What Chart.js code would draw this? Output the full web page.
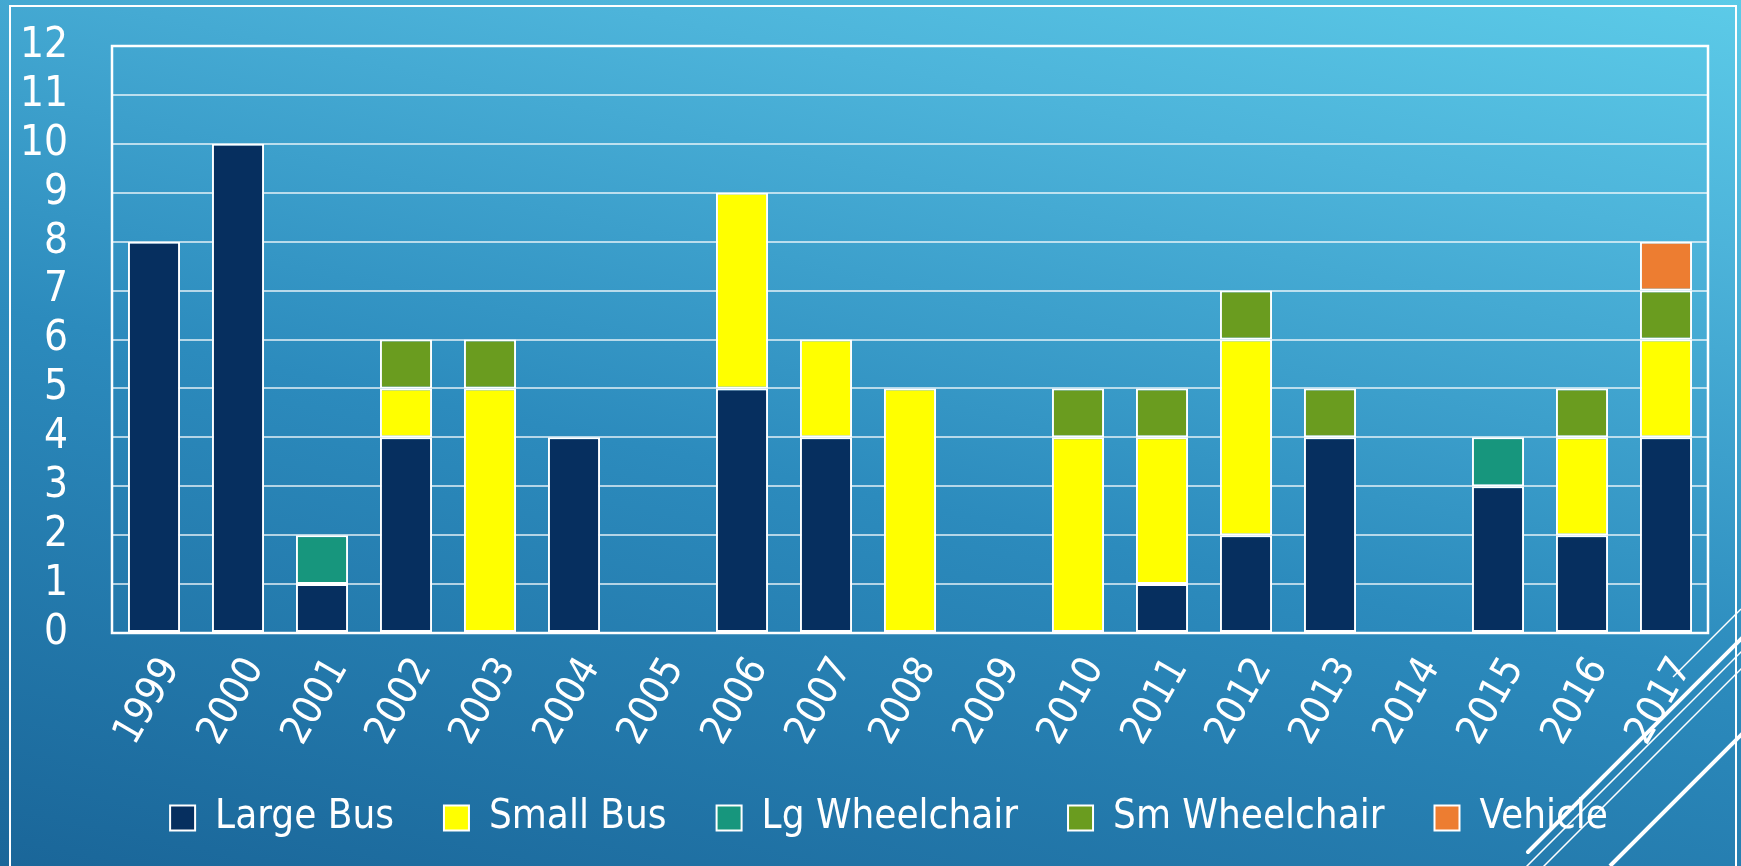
<!DOCTYPE html>
<html>
<head>
<meta charset="utf-8">
<script src="https://cdn.jsdelivr.net/npm/chart.js@4/dist/chart.umd.min.js"></script>
<style>
    html, body { margin: 0; padding: 0; }
    body {
        width: 1741px;
        height: 866px;
        overflow: hidden;
        position: relative;
        background: linear-gradient(12deg, #1a6699 0%, #2c8bbd 45%, #4db4da 80%, #5ccbe8 100%);
    }
    #frame {
        position: absolute;
        left: 9px;
        top: 5px;
        width: 1724px;
        height: 900px;
        border: 2px solid #ffffff;
    }
    #chart { position: absolute; left: 0; top: 0; }
    #deco { position: absolute; left: 0; top: 0; }
</style>
</head>
<body>
<div id="frame"></div>
<canvas id="chart" width="1741" height="866"></canvas>
<svg id="deco" width="1741" height="866">
    <g stroke="#ffffff" fill="none">
        <line x1="1673" y1="677" x2="1741" y2="609" stroke-width="1.5"/>
        <line x1="1528" y1="852" x2="1760" y2="620" stroke-width="4" stroke-linecap="round"/>
        <line x1="1523" y1="870" x2="1760" y2="633" stroke-width="1.5"/>
        <line x1="1540" y1="870" x2="1760" y2="650" stroke-width="1.5"/>
        <line x1="1610" y1="866" x2="1760" y2="716" stroke-width="4"/>
    </g>
</svg>
<script>
const years = ['1999', '2000', '2001', '2002', '2003', '2004', '2005', '2006', '2007', '2008',
    '2009', '2010', '2011', '2012', '2013', '2014', '2015', '2016', '2017'];

const largeBus     = [8, 10, 1, 4, 0, 4, 0, 5, 4, 0, 0, 0, 1, 2, 4, 0, 3, 2, 4];
const smallBus     = [0, 0, 0, 1, 5, 0, 0, 4, 2, 5, 0, 4, 3, 4, 0, 0, 0, 2, 2];
const lgWheelchair = [0, 0, 1, 0, 0, 0, 0, 0, 0, 0, 0, 0, 0, 0, 0, 0, 1, 0, 0];
const smWheelchair = [0, 0, 0, 1, 1, 0, 0, 0, 0, 0, 0, 1, 1, 1, 1, 0, 0, 1, 1];
const vehicle      = [0, 0, 0, 0, 0, 0, 0, 0, 0, 0, 0, 0, 0, 0, 0, 0, 0, 0, 1];

const fontFamily = '"Liberation Sans Narrow", "DejaVu Sans Condensed", sans-serif';

// white box around the plot area
const plotBorder = {
    id: 'plotBorder',
    afterDatasetsDraw(chart) {
        const a = chart.chartArea;
        const ctx = chart.ctx;
        ctx.save();
        ctx.strokeStyle = '#ffffff';
        ctx.lineWidth = 2.5;
        ctx.strokeRect(a.left, a.top, a.right - a.left, a.bottom - a.top);
        ctx.restore();
    }
};

// pull the legend up a bit so it sits under the rotated year labels
const legendShift = {
    id: 'legendShift',
    afterLayout(chart) {
        chart.legend.top -= 20;
        chart.legend.bottom -= 20;
        chart.legend.left += 70;
    }
};

function makeSet(label, data, color) {
    return {
        label: label,
        data: data.map(v => v === 0 ? null : v),
        backgroundColor: color,
        borderColor: '#ffffff',
        borderWidth: 2,
        borderSkipped: false,
        barPercentage: 0.62,
        categoryPercentage: 1
    };
}

document.addEventListener("DOMContentLoaded", () => {
    const ctx = document.getElementById('chart');

    new Chart(ctx, {
        type: 'bar',
        data: {
            labels: years,
            datasets: [
                makeSet('Large Bus', largeBus, '#062f5f'),
                makeSet('Small Bus', smallBus, '#ffff00'),
                makeSet('Lg Wheelchair', lgWheelchair, '#17967d'),
                makeSet('Sm Wheelchair', smWheelchair, '#6a9c1f'),
                makeSet('Vehicle', vehicle, '#ed7d31')
            ]
        },
        options: {
            responsive: false,
            animation: false,
            layout: {
                padding: { top: 46, right: 33, left: 0, bottom: -2 }
            },
            scales: {
                x: {
                    stacked: true,
                    grid: { display: false, drawTicks: false },
                    border: { display: false },
                    ticks: {
                        color: '#ffffff',
                        font: { family: fontFamily, size: 40 },
                        minRotation: 60,
                        maxRotation: 60,
                        autoSkip: false,
                        padding: 17,
                        labelOffset: 17
                    },
                    afterFit(scale) { scale.height = 135; }
                },
                y: {
                    stacked: true,
                    min: 0,
                    max: 12,
                    grid: {
                        color: 'rgba(255,255,255,0.65)',
                        lineWidth: 2,
                        drawTicks: false
                    },
                    border: { display: false },
                    ticks: {
                        stepSize: 1,
                        autoSkip: false,
                        color: '#ffffff',
                        font: { family: fontFamily, size: 42 },
                        padding: 44
                    },
                    afterFit(scale) {
                        scale.width = 112;
                        // tick padding would otherwise push the plot top down
                        scale.paddingTop = 0;
                        scale.paddingBottom = 0;
                    }
                }
            },
            plugins: {
                legend: {
                    position: 'bottom',
                    labels: {
                        color: '#ffffff',
                        font: { family: fontFamily, size: 40 },
                        boxWidth: 25,
                        boxHeight: 25,
                        padding: 50
                    }
                },
                tooltip: { enabled: false }
            }
        },
        plugins: [plotBorder, legendShift]
    });
});
</script>
</body>
</html>
